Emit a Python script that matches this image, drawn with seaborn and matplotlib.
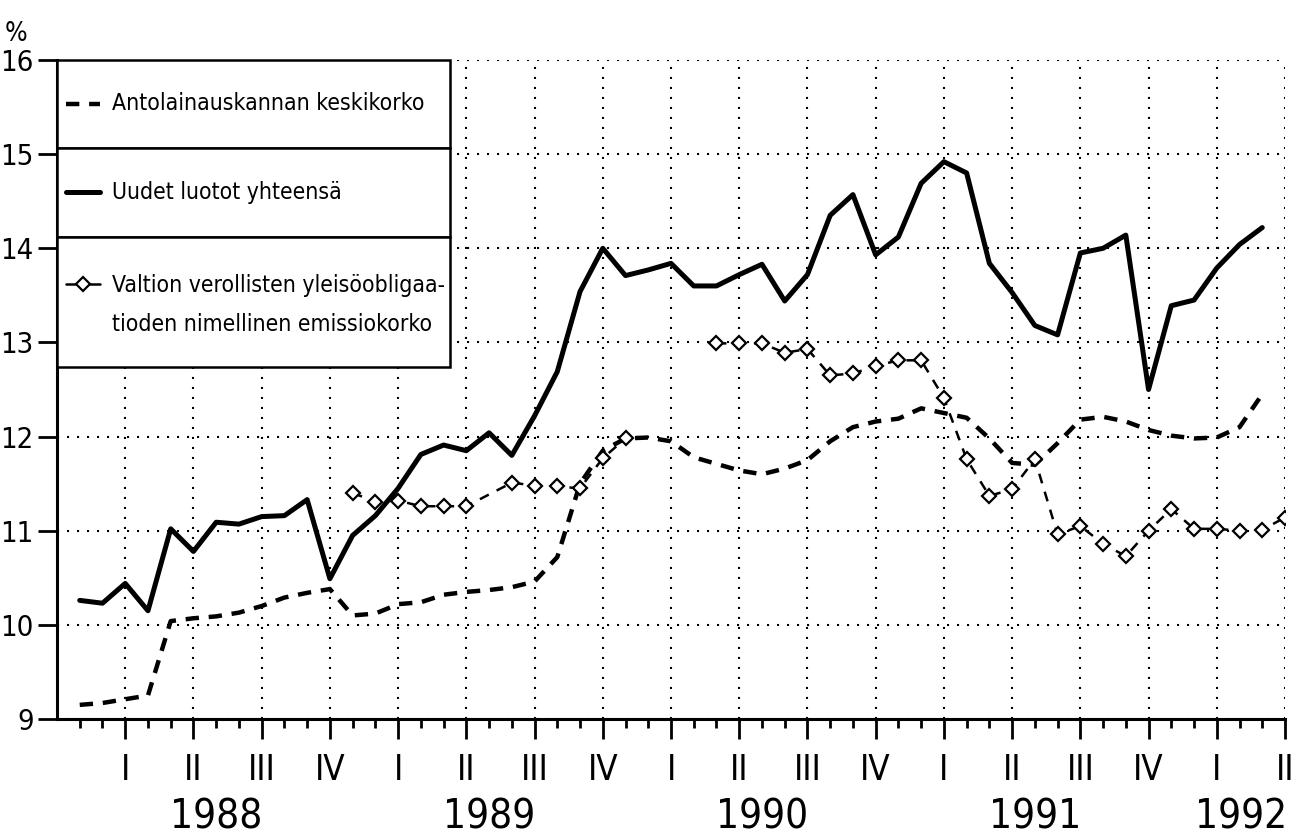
import numpy as np
import pandas as pd
import matplotlib.pyplot as plt
import seaborn as sns
from matplotlib.lines import Line2D
from matplotlib.patches import Rectangle

nan = np.nan

# months counted from January 1988 (0) to June 1992 (53)
months = np.arange(54)

# Antolainauskannan keskikorko, %, Jan 1988 - May 1992
avg_rate = [9.15, 9.17, 9.21, 9.25, 10.04, 10.07, 10.09, 10.13, 10.20, 10.29, 10.34, 10.38,
            10.10, 10.12, 10.22, 10.24, 10.32, 10.35, 10.37, 10.40, 10.46, 10.72, 11.50, 11.85,
            11.98, 11.99, 11.95, 11.78, 11.71, 11.64, 11.60, 11.66, 11.75, 11.95, 12.10, 12.16,
            12.19, 12.30, 12.25, 12.20, 11.98, 11.72, 11.70, 11.93, 12.18, 12.21, 12.16, 12.07,
            12.01, 11.98, 11.99, 12.10, 12.45]

# Uudet luotot yhteensä, %, Jan 1988 - May 1992
new_loans = [10.26, 10.23, 10.44, 10.15, 11.02, 10.78, 11.09, 11.07, 11.15, 11.16, 11.33, 10.49,
             10.95, 11.16, 11.45, 11.81, 11.91, 11.85, 12.04, 11.80, 12.22, 12.69, 13.54, 14.00,
             13.71, 13.77, 13.84, 13.60, 13.60, 13.72, 13.83, 13.44, 13.72, 14.35, 14.57, 13.93,
             14.12, 14.69, 14.92, 14.80, 13.84, 13.53, 13.18, 13.08, 13.95, 14.00, 14.14, 12.50,
             13.39, 13.45, 13.79, 14.04, 14.22]

# Valtion verollisten yleisöobligaatioiden emissiokorko, % (nan = no issue)
bond_rate = [nan] * 12 + [
    11.40, 11.31, 11.32, 11.26, 11.26, 11.26, nan, 11.51, 11.48, 11.47, 11.45, 11.77,
    11.98, nan, nan, nan, 12.99, 12.99, 12.99, 12.89, 12.93, 12.65, 12.67, 12.75,
    12.81, 12.81, 12.41, 11.76, 11.37, 11.44, 11.76, 10.96, 11.05, 10.86, 10.73, 11.00,
    11.23, 11.02, 11.02, 11.00, 11.01, 11.14]

quarter_names = ["I", "II", "III", "IV"]
years = ["1988", "1989", "1990", "1991", "1992"]
legend_labels = ["Antolainauskannan keskikorko",
                 "Uudet luotot yhteensä",
                 "Valtion verollisten yleisöobligaa-\ntioden nimellinen emissiokorko"]

sns.set_style("white")
plt.rcParams["font.family"] = ["Liberation Sans Narrow", "DejaVu Sans"]
plt.rcParams["font.stretch"] = "condensed"
plt.rcParams["text.color"] = "black"
plt.rcParams["xtick.color"] = "black"
plt.rcParams["ytick.color"] = "black"

W, H = 1303, 839
fig = plt.figure(figsize=(W / 100, H / 100), dpi=100)
ax_l, ax_r, ax_t, ax_b = 57, 1285, 60, 719
ax = fig.add_axes([ax_l / W, 1 - ax_b / H, (ax_r - ax_l) / W, (ax_b - ax_t) / H])


def to_ax(x, y):
    # pixel position -> axes fraction (for the hand drawn legend box)
    return (x - ax_l) / (ax_r - ax_l), (ax_b - y) / (ax_b - ax_t)


avg_df = pd.DataFrame({"month": months[:len(avg_rate)], "rate": avg_rate})
loan_df = pd.DataFrame({"month": months[:len(new_loans)], "rate": new_loans})
bond_df = pd.DataFrame({"month": months, "rate": bond_rate}).dropna()
bond_df["seg"] = (bond_df["month"].diff() > 2).cumsum()

sns.lineplot(data=avg_df, x="month", y="rate", ax=ax, color="black",
             linewidth=3.2, linestyle=(0, (3, 2.2)), zorder=3)
sns.lineplot(data=loan_df, x="month", y="rate", ax=ax, color="black",
             linewidth=3.6, zorder=4)
sns.lineplot(data=bond_df, x="month", y="rate", units="seg", estimator=None, ax=ax,
             color="black", linewidth=1.8, linestyle=(0, (4, 3.5)), marker="D",
             markersize=7, markerfacecolor="white", markeredgecolor="black",
             markeredgewidth=1.6, zorder=5)

ax.set_xlim(-1, 53)
ax.set_ylim(9, 16)
ax.set_xlabel("")
ax.set_ylabel("")

# y axis
ax.set_yticks(range(9, 17))
ax.set_yticklabels([str(v) for v in range(9, 17)], fontsize=21)
ax.tick_params(axis="y", length=13.7, width=2, pad=3, left=True, direction="out")

# x axis: month ticks, quarter labels at each quarter's last month
qticks = months[2::3]
ax.set_xticks(qticks)
ax.set_xticklabels([quarter_names[i % 4] for i in range(len(qticks))], fontsize=25)
ax.set_xticks(months[:53], minor=True)
ax.tick_params(axis="x", which="major", length=14.4, width=2, pad=10, bottom=True, direction="out")
ax.tick_params(axis="x", which="minor", length=6.5, width=2, bottom=True, direction="out")

for i, yr in enumerate(years[:-1]):
    ax.text(12 * i + 6, -0.15, yr, transform=ax.get_xaxis_transform(),
            ha="center", va="center", fontsize=29)
ax.text(53.1, -0.15, years[-1], transform=ax.get_xaxis_transform(),
        ha="right", va="center", fontsize=29)

# dotted grid
ax.set_axisbelow(True)
ax.grid(True, which="major", color="black", linewidth=1.5, linestyle=(0, (1, 3.8)))

for side in ["top", "right"]:
    ax.spines[side].set_visible(False)
for side in ["left", "bottom"]:
    ax.spines[side].set_linewidth(2.2)
    ax.spines[side].set_color("black")

fig.text(16 / W, 1 - 34 / H, "%", fontsize=19, ha="center", va="center")

# legend box with three compartments
rows = [(60, 148), (148, 237), (237, 367)]
for top, bot in rows:
    x0, y0 = to_ax(57, bot)
    x1, y1 = to_ax(450, top)
    ax.add_patch(Rectangle((x0, y0), x1 - x0, y1 - y0, transform=ax.transAxes,
                           facecolor="white", edgecolor="black", linewidth=1.8,
                           zorder=10, clip_on=False))

styles = [dict(linewidth=3.2, linestyle=(0, (3, 2.2))),
          dict(linewidth=3.6),
          dict(linewidth=1.8, marker="D", markersize=7, markerfacecolor="white",
               markeredgewidth=1.6, markevery=[1])]
centers = [104, 192, 305]
for (label, st, cy) in zip(legend_labels, styles, centers):
    sy = cy if "\n" not in label else 284
    xa, ya = to_ax(66, sy)
    xb, _ = to_ax(100, sy)
    xm, _ = to_ax(83, sy)
    ax.add_line(Line2D([xa, xm, xb], [ya, ya, ya], transform=ax.transAxes, color="black",
                       zorder=11, clip_on=False, **st))
    tx, ty = to_ax(112, cy)
    ax.text(tx, ty, label, transform=ax.transAxes, ha="left", va="center",
            fontsize=16.5, linespacing=1.9, zorder=12)

fig.savefig("out.png", dpi=100)
